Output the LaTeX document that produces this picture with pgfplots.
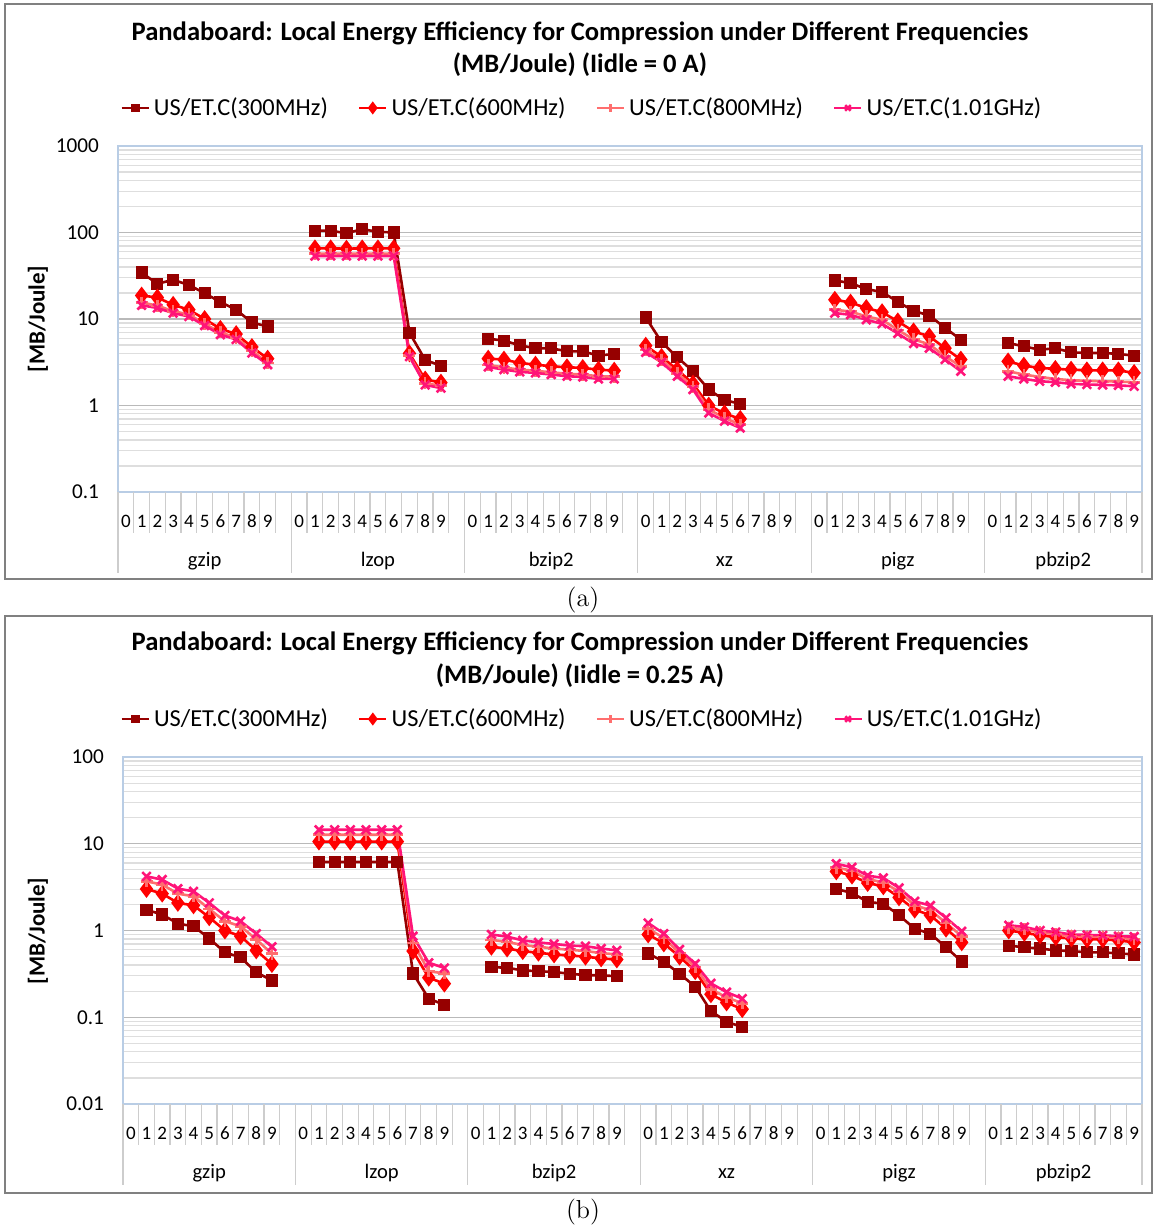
\documentclass[border=0pt]{standalone}
\usepackage{fontspec}
\usepackage{pgfplots}
\usepackage{pgfplotstable}
\pgfplotsset{compat=1.18}
\newfontfamily\carlito{Carlito}

\definecolor{cA}{RGB}{150,0,0}
\definecolor{cB}{RGB}{255,0,0}
\definecolor{cC}{RGB}{255,110,110}
\definecolor{cD}{RGB}{255,20,120}
\definecolor{gmaj}{RGB}{185,185,185}
\definecolor{gmin}{RGB}{222,222,222}
\definecolor{pborder}{RGB}{185,205,229}
\definecolor{sepc}{RGB}{205,205,205}
\definecolor{framec}{RGB}{128,128,128}

% Panel (a): Iidle = 0 A
\pgfplotstableread{
x   s300  s600  s800  s1010
1   34.4  18.7  15.5  14.4
2   25.5  17.7  14.3  13.4
3   28.4  14.6  12.3  11.7
4   24.7  12.8  11.3  10.7
5   19.9  10.0  8.8   8.4
6   15.7  7.7   7.0   6.6
7   12.8  6.7   6.1   5.8
8   9.1   4.75  4.3   4.05
9   8.2   3.48  3.1   2.97
10  nan   nan   nan   nan
12  105   65.6  57    53.5
13  105   65.6  57    53.5
14  98    65.0  57    53.5
15  109   65.6  57    53.5
16  102   65.6  57    53.5
17  100   65.6  57    53.5
18  6.95  4.0   3.8   3.67
19  3.36  2.0   1.8   1.73
20  2.88  1.84  1.7   1.59
21  nan   nan   nan   nan
23  5.93  3.48  2.95  2.79
24  5.62  3.40  2.75  2.60
25  4.96  3.10  2.60  2.45
26  4.59  2.97  2.52  2.38
27  4.59  2.84  2.42  2.28
28  4.23  2.77  2.33  2.18
29  4.23  2.72  2.28  2.14
30  3.77  2.60  2.18  2.03
31  3.95  2.53  2.15  2.03
32  nan   nan   nan   nan
33  10.4  4.92  4.4   4.12
34  5.43  3.65  3.4   3.16
35  3.61  2.60  2.35  2.18
36  2.49  1.79  1.65  1.53
37  1.53  1.00  0.90  0.82
38  1.15  0.81  0.72  0.66
39  1.05  0.70  0.60  0.55
40  nan   nan   nan   nan
45  27.9  16.7  12.8  11.7
46  26.0  15.5  12.2  11.2
47  22.2  13.4  10.7  9.8
48  20.5  12.0  9.8   8.8
49  15.8  9.4   7.5   6.8
50  12.4  7.2   5.8   5.2
51  11.0  6.3   5.1   4.6
52  7.9   4.6   3.7   3.4
53  5.77  3.4   2.84  2.49
54  nan   nan   nan   nan
56  5.28  3.24  2.49  2.18
57  4.83  2.89  2.28  2.03
58  4.42  2.72  2.14  1.91
59  4.58  2.65  2.03  1.86
60  4.12  2.60  1.96  1.78
61  4.05  2.55  1.93  1.75
62  4.05  2.55  1.91  1.73
63  3.95  2.55  1.89  1.71
64  3.77  2.38  1.86  1.67
}\dataA

% Panel (b): Iidle = 0.25 A
\pgfplotstableread{
x   s300  s600  s800  s1010
1   1.73  3.01  3.69  4.21
2   1.53  2.66  3.38  3.86
3   1.20  2.08  2.66  3.04
4   1.12  1.95  2.48  2.83
5   0.81  1.42  1.77  2.08
6   0.56  1.00  1.28  1.49
7   0.49  0.86  1.12  1.28
8   0.33  0.59  0.79  0.92
9   0.266 0.41  0.54  0.65
10  nan   nan   nan   nan
12  6.16  10.6  12.7  14.5
13  6.16  10.6  12.7  14.5
14  6.16  10.6  12.7  14.5
15  6.16  10.6  12.7  14.5
16  6.16  10.6  12.7  14.5
17  6.16  10.6  12.7  14.5
18  0.32  0.58  0.72  0.86
19  0.164 0.286 0.34  0.425
20  0.139 0.244 0.32  0.37
21  nan   nan   nan   nan
23  0.379 0.65  0.78  0.90
24  0.372 0.62  0.74  0.85
25  0.347 0.578 0.68  0.77
26  0.340 0.554 0.65  0.73
27  0.332 0.53  0.62  0.70
28  0.318 0.516 0.60  0.67
29  0.306 0.499 0.58  0.66
30  0.304 0.477 0.55  0.62
31  0.298 0.464 0.53  0.59
32  nan   nan   nan   nan
33  0.544 0.90  1.05  1.22
34  0.436 0.71  0.82  0.92
35  0.318 0.50  0.55  0.605
36  0.225 0.34  0.38  0.414
37  0.118 0.184 0.21  0.246
38  0.089 0.148 0.17  0.195
39  0.077 0.124 0.145 0.164
40  nan   nan   nan   nan
45  3.01  4.8   5.3   5.89
46  2.71  4.29  4.9   5.35
47  2.14  3.53  3.9   4.29
48  2.04  3.23  3.6   4.04
49  1.50  2.41  2.8   3.1
50  1.05  1.74  1.95  2.17
51  0.92  1.50  1.72  1.94
52  0.64  1.05  1.22  1.40
53  0.44  0.73  0.86  0.98
54  nan   nan   nan   nan
56  0.67  1.00  1.08  1.15
57  0.64  0.94  1.03  1.10
58  0.62  0.88  0.95  1.00
59  0.59  0.84  0.91  0.96
60  0.58  0.81  0.86  0.90
61  0.56  0.79  0.85  0.89
62  0.56  0.79  0.84  0.88
63  0.545 0.77  0.82  0.86
64  0.53  0.73  0.80  0.85
}\dataB

\tikzset{
  sA/.style={color=cA, line width=1.3pt, mark=square*, mark size=2.4pt, mark options={solid}},
  sB/.style={color=cB, line width=1.3pt, mark=diamond*, mark size=3.4pt, mark options={solid}},
  sC/.style={color=cC, line width=1.3pt, mark=+, mark size=3pt, mark options={solid}},
  sD/.style={color=cD, line width=1.3pt, mark=x, mark size=3pt, mark options={solid}},
  grpname/.style={font=\carlito\fontsize{10.3}{12}\selectfont, anchor=base, yshift=-37pt},
  ttl/.style={font=\carlito\bfseries\fontsize{13.3}{15}\selectfont},
}

\begin{document}
\begin{tikzpicture}
% ---------- Panel (a) ----------
\begin{axis}[
  at={(59pt,-246pt)}, anchor=south west,
  scale only axis, width=512pt, height=173pt,
  ymode=log, xmin=-0.5, xmax=64.5, clip=false,
  unbounded coords=jump,
  ymin=0.1, ymax=1000,
  xtick={0,...,64},
  xticklabels={0,1,2,3,4,5,6,7,8,9,{},0,1,2,3,4,5,6,7,8,9,{},0,1,2,3,4,5,6,7,8,9,{},0,1,2,3,4,5,6,7,8,9,{},0,1,2,3,4,5,6,7,8,9,{},0,1,2,3,4,5,6,7,8,9},
  ytick={0.1,1,10,100,1000}, yticklabels={0.1,1,10,100,1000},
  minor ytick={0.2,0.3,0.4,0.5,0.6,0.7,0.8,0.9,2,3,4,5,6,7,8,9,20,30,40,50,60,70,80,90,200,300,400,500,600,700,800,900},
  major tick length=0pt, minor tick length=0pt,
  ymajorgrids, yminorgrids,
  major grid style={draw=gmaj, line width=0.6pt},
  minor grid style={draw=gmin, line width=0.6pt},
  axis line style={draw=pborder, line width=0.6pt},
  xticklabel style={font=\carlito\fontsize{9.5}{10}\selectfont, anchor=base, yshift=-17.5pt},
  yticklabel style={font=\carlito\fontsize{10.6}{12}\selectfont, xshift=-6pt},
  legend columns=4,
  legend cell align=left,
  legend style={at={(0.454,1.110)}, draw=none, fill=none, anchor=center,
    font=\carlito\fontsize{12.2}{13}\selectfont,
    /tikz/every even column/.append style={column sep=13pt}},
  legend image code/.code={\draw[mark repeat=2,mark phase=2,mark options={solid,scale=0.65}] plot coordinates {(0pt,0pt) (6.75pt,0pt) (13.5pt,0pt)};},
]
\addplot[sA] table[x=x,y=s300] {\dataA};
\addplot[sB] table[x=x,y=s600] {\dataA};
\addplot[sC] table[x=x,y=s800] {\dataA};
\addplot[sD] table[x=x,y=s1010] {\dataA};
\legend{US/ET.C(300MHz),US/ET.C(600MHz),US/ET.C(800MHz),US/ET.C(1.01GHz)}
\pgfplotsinvokeforeach{-0.5,0.5,...,64.5}{\draw[sepc,line width=0.6pt] (axis cs:#1,0.1) -- ++(0pt,-20.5pt);}
\pgfplotsinvokeforeach{-0.5,10.5,21.5,32.5,43.5,54.5,64.5}{\draw[sepc,line width=0.6pt] (axis cs:#1,0.1) -- ++(0pt,-40.5pt);}
\node[grpname] at (axis cs:5,0.1) {gzip};
\node[grpname] at (axis cs:16,0.1) {lzop};
\node[grpname] at (axis cs:27,0.1) {bzip2};
\node[grpname] at (axis cs:38,0.1) {xz};
\node[grpname] at (axis cs:49,0.1) {pigz};
\node[grpname] at (axis cs:59.5,0.1) {pbzip2};
\end{axis}

% ---------- Panel (b) ----------
\begin{axis}[
  at={(61.5pt,-552pt)}, anchor=south west,
  scale only axis, width=509.5pt, height=173.5pt,
  ymode=log, xmin=-0.5, xmax=64.5, clip=false,
  unbounded coords=jump,
  ymin=0.01, ymax=100,
  xtick={0,...,64},
  xticklabels={0,1,2,3,4,5,6,7,8,9,{},0,1,2,3,4,5,6,7,8,9,{},0,1,2,3,4,5,6,7,8,9,{},0,1,2,3,4,5,6,7,8,9,{},0,1,2,3,4,5,6,7,8,9,{},0,1,2,3,4,5,6,7,8,9},
  ytick={0.01,0.1,1,10,100}, yticklabels={0.01,0.1,1,10,100},
  minor ytick={0.02,0.03,0.04,0.05,0.06,0.07,0.08,0.09,0.2,0.3,0.4,0.5,0.6,0.7,0.8,0.9,2,3,4,5,6,7,8,9,20,30,40,50,60,70,80,90},
  major tick length=0pt, minor tick length=0pt,
  ymajorgrids, yminorgrids,
  major grid style={draw=gmaj, line width=0.6pt},
  minor grid style={draw=gmin, line width=0.6pt},
  axis line style={draw=pborder, line width=0.6pt},
  xticklabel style={font=\carlito\fontsize{9.5}{10}\selectfont, anchor=base, yshift=-17.5pt},
  yticklabel style={font=\carlito\fontsize{10.6}{12}\selectfont, xshift=-6pt},
  legend columns=4,
  legend cell align=left,
  legend style={at={(0.4514,1.1095)}, draw=none, fill=none, anchor=center,
    font=\carlito\fontsize{12.2}{13}\selectfont,
    /tikz/every even column/.append style={column sep=13pt}},
  legend image code/.code={\draw[mark repeat=2,mark phase=2,mark options={solid,scale=0.65}] plot coordinates {(0pt,0pt) (6.75pt,0pt) (13.5pt,0pt)};},
]
\addplot[sA] table[x=x,y=s300] {\dataB};
\addplot[sB] table[x=x,y=s600] {\dataB};
\addplot[sC] table[x=x,y=s800] {\dataB};
\addplot[sD] table[x=x,y=s1010] {\dataB};
\legend{US/ET.C(300MHz),US/ET.C(600MHz),US/ET.C(800MHz),US/ET.C(1.01GHz)}
\pgfplotsinvokeforeach{-0.5,0.5,...,64.5}{\draw[sepc,line width=0.6pt] (axis cs:#1,0.01) -- ++(0pt,-20.5pt);}
\pgfplotsinvokeforeach{-0.5,10.5,21.5,32.5,43.5,54.5,64.5}{\draw[sepc,line width=0.6pt] (axis cs:#1,0.01) -- ++(0pt,-40.5pt);}
\node[grpname] at (axis cs:5,0.01) {gzip};
\node[grpname] at (axis cs:16,0.01) {lzop};
\node[grpname] at (axis cs:27,0.01) {bzip2};
\node[grpname] at (axis cs:38,0.01) {xz};
\node[grpname] at (axis cs:49,0.01) {pigz};
\node[grpname] at (axis cs:59.5,0.01) {pbzip2};
\end{axis}

% ---------- Frames, titles, labels, captions ----------
\draw[framec, line width=0.8pt] (2.5pt,-2pt) rectangle (576pt,-289.5pt);
\draw[framec, line width=0.8pt] (2.5pt,-308pt) rectangle (576pt,-596.5pt);

\node[ttl] at (290pt,-16.5pt) {Pandaboard: Local Energy Efficiency for Compression under Different Frequencies};
\node[ttl] at (290pt,-32.5pt) {(MB/Joule) (Iidle = 0 A)};
\node[ttl] at (290pt,-321.5pt) {Pandaboard: Local Energy Efficiency for Compression under Different Frequencies};
\node[ttl] at (290pt,-338pt) {(MB/Joule) (Iidle = 0.25 A)};

\node[font=\carlito\bfseries\fontsize{11.5}{13}\selectfont, rotate=90] at (19pt,-159.5pt) {[MB/Joule]};
\node[font=\carlito\bfseries\fontsize{11.5}{13}\selectfont, rotate=90] at (19pt,-465.5pt) {[MB/Joule]};

\node[font=\fontsize{13}{15}\selectfont] at (291.5pt,-300pt) {(a)};
\node[font=\fontsize{13}{15}\selectfont] at (291.5pt,-606pt) {(b)};

\pgfresetboundingbox
\path (0pt,0pt) rectangle (577pt,-614pt);
\end{tikzpicture}
\end{document}
